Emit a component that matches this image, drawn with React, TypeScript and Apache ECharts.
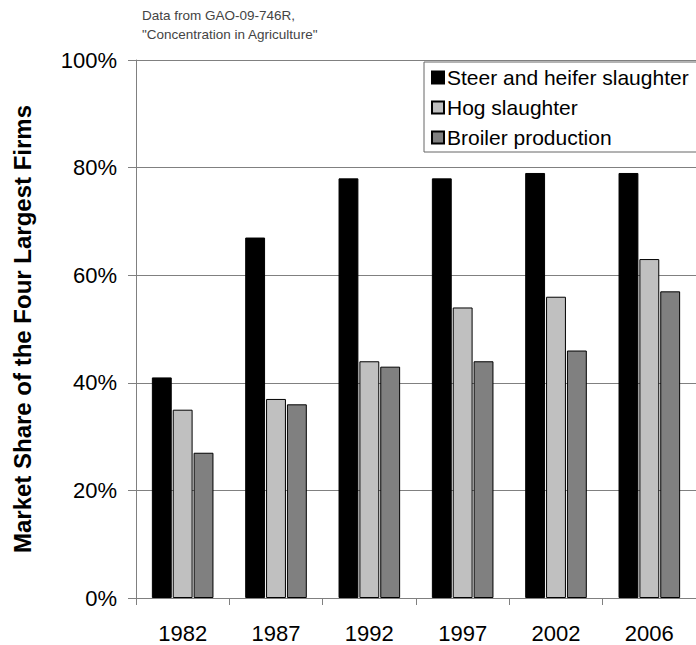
import React, { useEffect, useRef } from "react";
import * as echarts from "echarts";

const categories = ["1982", "1987", "1992", "1997", "2002", "2006"];
const steerHeifer = [41, 67, 78, 78, 79, 79];
const hog = [35, 37, 44, 54, 56, 63];
const broiler = [27, 36, 43, 44, 46, 57];
const seriesNames = ["Steer and heifer slaughter", "Hog slaughter", "Broiler production"];
const yTicks = [0, 20, 40, 60, 80, 100];
const yAxisTitle = "Market Share of the Four Largest Firms";
const noteText = 'Data from GAO-09-746R,\n"Concentration in Agriculture"';

export default function App() {
  const ref = useRef<HTMLDivElement>(null);
  useEffect(() => {
    if (!ref.current) return;
    const chart = echarts.init(ref.current, null, { renderer: "svg" });
    const font = "Liberation Sans, Arial, sans-serif";
    const colors = ["#000000", "#c0c0c0", "#808080"];
    const data = [steerHeifer, hog, broiler];
    chart.setOption({
      animation: false,
      backgroundColor: "#ffffff",
      textStyle: { fontFamily: font },
      grid: { left: 136, top: 60, width: 564, bottom: 47, containLabel: false },
      graphic: [
        {
          type: "text",
          x: 142,
          y: 6,
          style: {
            text: noteText,
            font: `13.5px ${font}`,
            fill: "#444444",
            lineHeight: 19,
          },
        },
        {
          type: "text",
          x: 22,
          y: 329,
          rotation: Math.PI / 2,
          style: {
            text: yAxisTitle,
            font: `bold 24px ${font}`,
            fill: "#000000",
            align: "center",
            verticalAlign: "middle",
          },
        },
      ],
      legend: {
        orient: "vertical",
        left: 424,
        top: 62,
        padding: [5, 8, 4, 7],
        itemWidth: 12,
        itemHeight: 12,
        itemGap: 9,
        icon: "rect",
        borderColor: "#666666",
        borderWidth: 1,
        backgroundColor: "#ffffff",
        textStyle: { fontSize: 21, color: "#000000", fontFamily: font, padding: [0, 0, 0, -2] },
        data: seriesNames,
      },
      xAxis: {
        type: "category",
        data: categories,
        axisLine: { lineStyle: { color: "#808080", width: 1 } },
        axisTick: { show: true, length: 7, lineStyle: { color: "#808080" }, alignWithLabel: false },
        axisLabel: { fontSize: 22, color: "#000000", margin: 24, fontFamily: font },
        splitLine: { show: false },
      },
      yAxis: {
        type: "value",
        min: 0,
        max: 100,
        interval: 20,
        axisLine: { show: true, lineStyle: { color: "#808080", width: 1 } },
        axisTick: { show: true, length: 8, lineStyle: { color: "#808080" } },
        axisLabel: {
          fontSize: 22,
          color: "#000000",
          margin: 19,
          fontFamily: font,
          formatter: (v: number) => (yTicks.includes(v) ? `${v}%` : ""),
        },
        splitLine: { show: true, lineStyle: { color: "#808080", width: 1 } },
      },
      series: seriesNames.map((name, i) => ({
        name,
        type: "bar",
        data: data[i],
        barGap: "5%",
        barCategoryGap: "34%",
        itemStyle: { color: colors[i], borderColor: "#000000", borderWidth: 1 },
      })),
    });
    return () => chart.dispose();
  }, []);
  return (
    <div
      ref={ref}
      style={{ position: "fixed", left: 0, top: 0, width: 696, height: 645 }}
    />
  );
}
